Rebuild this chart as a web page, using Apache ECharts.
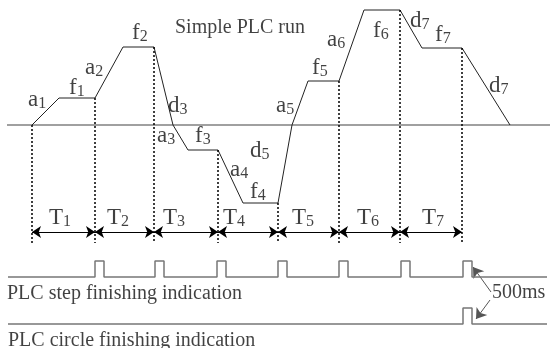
<!DOCTYPE html>
<html>
<head>
<meta charset="utf-8">
<script src="https://cdn.jsdelivr.net/npm/echarts@6/dist/echarts.min.js"></script>
<style>
  html, body { margin: 0; padding: 0; background: #fff; }
  #chart { width: 550px; height: 348px; }
</style>
</head>
<body>
<div id="chart"></div>
<script>
// speed profile of the run (time, speed)
const runTime  = [32, 59, 95, 123, 154, 173, 188, 218, 243, 278, 292, 308, 339, 364, 400, 422, 462, 510]
const runSpeed = [0, 27, 27, 78, 78, 0, -25, -25, -78, -78, 0, 44, 44, 115, 115, 77, 77, 0]

// step boundaries and the speed where each dotted marker starts
const stepTime  = [32, 95, 154, 218, 278, 339, 400, 462]
const stepSpeed = [0, 27, 78, -25, -78, 44, 115, 77]
const stepNames = ['T1', 'T2', 'T3', 'T4', 'T5', 'T6', 'T7']
const stepLabelTime = [49, 107, 163, 223, 292, 357, 422]

// segment labels (name, time, speed)
const segNames = ['a1', 'f1', 'a2', 'f2', 'd3', 'a3', 'f3', 'a4', 'f4', 'd5', 'a5', 'f5', 'a6', 'f6', 'd7', 'f7', 'd7']
const segTime  = [28, 69, 85, 132, 168, 157, 195, 230, 250, 250, 276, 312, 327, 373, 410, 435, 489]
const segSpeed = [25, 37, 57, 92, 19, -11, -11, -45, -67, -26, 19, 57, 85, 94, 104, 90, 39]

// finishing indication pulses (500ms wide)
const stepPulses = [95, 155, 217, 278, 339, 401, 463]
const circlePulses = [463]
const pulseWidth = 9

const chart = echarts.init(document.getElementById('chart'))

const FONT = 'Liberation Serif'
const levels = { zero: 0, arrow: -107, dotEnd: -118, stepRow: -152, stepHigh: -136, circleRow: -199, circleHigh: -183 }

function pulseTrain(starts, low, high) {
  const pts = [[8, low]]
  starts.forEach(x => {
    pts.push([x, low], [x, high], [x + pulseWidth, high], [x + pulseWidth, low])
  })
  pts.push([547, low])
  return pts
}

const subLabel = {
  show: true,
  position: 'right',
  distance: 0,
  formatter: p => `{m|${p.data[2][0]}}{s|${p.data[2].slice(1)}}`,
  rich: {
    m: { fontFamily: FONT, fontSize: 23, lineHeight: 24, color: '#111' },
    s: { fontFamily: FONT, fontSize: 16, lineHeight: 8, verticalAlign: 'bottom', color: '#111' },
  },
}

const plainText = [
  ['Simple PLC run', 175, 97],
  ['PLC step finishing indication', 7, -169],
  ['PLC circle finishing indication', 8, -216],
  ['500ms', 492, -168],
]

const option = {
  animation: false,
  grid: { left: 0, right: 0, top: 0, bottom: 0 },
  xAxis: { type: 'value', min: 0, max: 550, show: false },
  yAxis: { type: 'value', min: -223, max: 125, show: false },
  series: [
    {
      // speed zero line
      type: 'line', symbol: 'none',
      data: [[7, levels.zero], [550, levels.zero]],
      lineStyle: { color: '#808080', width: 1.5 },
    },
    {
      type: 'line', symbol: 'none',
      data: runTime.map((t, i) => [t, runSpeed[i]]),
      lineStyle: { color: '#222', width: 1 },
    },
    ...stepTime.map((t, i) => ({
      type: 'line', symbol: 'none',
      data: [[t, stepSpeed[i]], [t, levels.dotEnd]],
      lineStyle: { color: '#000', width: 1.5, type: [2, 2] },
    })),
    {
      type: 'lines', coordinateSystem: 'cartesian2d',
      symbol: ['arrow', 'arrow'], symbolSize: 9,
      lineStyle: { color: '#000', width: 1, opacity: 1 },
      data: stepNames.map((n, i) => ({ coords: [[stepTime[i], levels.arrow], [stepTime[i + 1], levels.arrow]] })),
    },
    {
      type: 'line', symbol: 'none',
      data: pulseTrain(stepPulses, levels.stepRow, levels.stepHigh),
      lineStyle: { color: '#777', width: 1.5 },
    },
    {
      type: 'line', symbol: 'none',
      data: pulseTrain(circlePulses, levels.circleRow, levels.circleHigh),
      lineStyle: { color: '#777', width: 1.5 },
    },
    {
      type: 'lines', coordinateSystem: 'cartesian2d',
      symbol: ['none', 'arrow'], symbolSize: 10,
      lineStyle: { color: '#555', width: 1, opacity: 1 },
      data: [
        { coords: [[491, -167], [473, -142]] },
        { coords: [[490, -175], [476, -194]] },
      ],
    },
    {
      type: 'scatter', symbolSize: 0,
      data: segNames.map((n, i) => [segTime[i], segSpeed[i], n]),
      label: subLabel,
    },
    {
      type: 'scatter', symbolSize: 0,
      data: stepNames.map((n, i) => [stepLabelTime[i], -93, n]),
      label: subLabel,
    },
    {
      type: 'scatter', symbolSize: 0,
      data: plainText.map(d => [d[1], d[2], d[0]]),
      label: {
        show: true, position: 'right', distance: 0,
        formatter: p => p.data[2],
        fontFamily: FONT, fontSize: 20, color: '#111',
      },
    },
  ],
}

chart.setOption(option)
</script>
</body>
</html>
